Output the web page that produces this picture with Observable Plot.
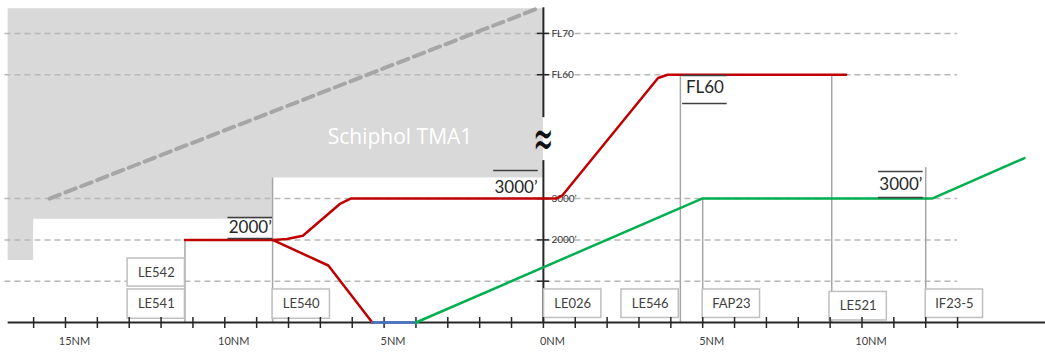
<!DOCTYPE html>
<html><head><meta charset="utf-8">
<script src="https://cdn.jsdelivr.net/npm/d3@7"></script>
<script src="https://cdn.jsdelivr.net/npm/@observablehq/plot@0.6"></script>
<style>body{margin:0;background:#fff}</style>
</head><body><div id="chart"></div>
<script>
// x: distance in NM (0 = reference point), y: altitude in feet
const redUpperNM = [-11.25, -8.5, -8.05, -7.55, -6.37, -6.05, 0.4, 0.6, 3.6, 3.9, 9.5];
const redUpperFt = [2000, 2000, 2020, 2100, 2880, 3000, 3000, 3080, 5920, 6000, 6000];
const redLowerNM = [-8.5, -6.75, -5.37];
const redLowerFt = [2000, 1380, 0];
const blueNM = [-5.37, -4.0];
const blueFt = [0, 0];
const greenNM = [-4.0, 4.98, 12.2, 15.1];
const greenFt = [0, 3000, 3000, 3980];

const tmaNM = [-16.8, -16, -8.5, 0];
const tmaBaseFt = [1500, 2500, 3500, 3500];
const tmaTopFt = 7600;
const tmaLabel = ["Schiphol TMA1"];
const tmaLabelNM = [-4.5];
const tmaLabelFt = [4480];

const slopeNM = [-15.5, -0.2];
const slopeFt = [3000, 7600];

const gridFt = [1000, 2000, 3000, 6000, 7000];
const gridExtentNM = [-16.9, 13.0];

const yTickFt = [1000, 2000, 3000, 6000, 7000];
const yLabelFt = [2000, 3000, 6000, 7000];
const yLabelText = ["2000’", "3000’", "FL60", "FL70"];
const yAxisFrom = [0, 4960];
const yAxisTo = [3920, 7620];
const breakSymbol = ["≈"];
const breakFt = [4430];

const xAxisExtentNM = [-16.8, 15.76];
const xTicksNM = [-16,-15,-14,-13,-12,-11,-10,-9,-8,-7,-6,-5,-4,-3,-2,-1,0,1,2,3,4,5,6,7,8,9,10,11,12,13];
const xLabelNM = [-15, -10, -5, 0, 5, 10];
const xLabelText = ["15NM", "10NM", "5NM", "0NM", "5NM", "10NM"];

const vlineNM = [-11.25, -8.5, 4.3, 5.0, 9.05, 12.0];
const vlineTopFt = [2000, 3500, 6000, 3000, 6000, 3750];

const wpNames = ["LE542", "LE541", "LE540", "LE026", "LE546", "FAP23", "LE521", "IF23-5"];
const boxStartNM = [-13.05, -13.05, -8.5, 0.02, 2.45, 5.0, 8.98, 12.0];
const boxTopFt = [1550, 800, 800, 800, 800, 800, 740, 800];
const boxBottomFt = [870, 90, 90, 110, 110, 110, 50, 110];

const annText = ["2000’", "3000’", "FL60", "3000’"];
const annNM = [-9.2, -0.86, 5.07, 11.22];
const annFt = [2300, 3257, 5678, 3329];
const annOverFt = [2540, 3680, 5980, 3656];
const annUnderFt = [2034, null, 5303, 3027];

// ---- build tables ----
const zip = (xs, ys) => xs.map((x, i) => ({x, y: ys[i]}));
const tma = tmaNM.map((x, i) => ({x, base: tmaBaseFt[i]}));
const vlines = vlineNM.map((x, i) => ({x, top: vlineTopFt[i]}));
const BOX_W = 1.8;
const boxes = wpNames.map((name, i) => ({name, x1: boxStartNM[i], x2: boxStartNM[i] + BOX_W, y1: boxBottomFt[i], y2: boxTopFt[i]}));
const ann = annText.map((t, i) => ({t, x: annNM[i], y: annFt[i], over: annOverFt[i], under: annUnderFt[i]}));
const BAR = 0.7;
const xLabelMap = new Map(xLabelNM.map((d, i) => [d, xLabelText[i]]));
const yAxisSegs = yAxisFrom.map((a, i) => ({a, b: yAxisTo[i]}));
const TICK = 0.19;

const plot = Plot.plot({
  width: 1045, height: 352,
  marginLeft: 0, marginRight: 0, marginTop: 0, marginBottom: 35,
  x: {domain: [-17.04, 15.76], label: null},
  y: {domain: [121, 7797], label: null, axis: null},
  style: {fontFamily: "Lato, sans-serif", background: "white", overflow: "visible"},
  marks: [
    Plot.areaY(tma, {x: "x", y1: tmaTopFt, y2: "base", curve: "step-after", fill: "#d9d9d9"}),
    Plot.ruleY(gridFt, {y: d => d, x1: gridExtentNM[0], x2: gridExtentNM[1], stroke: "#b8b8b8", strokeWidth: 1.5, strokeDasharray: "6,4"}),
    Plot.line(zip(slopeNM, slopeFt), {x: "x", y: "y", stroke: "#a6a6a6", strokeWidth: 4, strokeDasharray: "11,6"}),
    Plot.text(tmaLabel, {x: () => tmaLabelNM[0], y: () => tmaLabelFt[0], text: d => d, fill: "white", fontSize: 21, fontFamily: "Open Sans"}),
    Plot.ruleX(vlines, {x: "x", y1: 0, y2: "top", stroke: "#a6a6a6", strokeWidth: 1.5}),
    Plot.ruleX(yAxisSegs, {x: 0, y1: "a", y2: "b", stroke: "#262626", strokeWidth: 2}),
    Plot.ruleY(yTickFt, {y: d => d, x1: -TICK, x2: TICK, stroke: "#262626", strokeWidth: 1.5}),
    Plot.text(yLabelFt, {x: 0, y: d => d, text: (d, i) => yLabelText[i], dx: 8, textAnchor: "start", fontSize: 10, fill: "#333"}),
    Plot.rect(boxes, {x1: "x1", x2: "x2", y1: "y1", y2: "y2", fill: "white", stroke: "#bfbfbf", strokeWidth: 1.5}),
    Plot.text(boxes, {x: d => (d.x1 + d.x2) / 2, y: d => (d.y1 + d.y2) / 2, text: "name", fontSize: 13, fill: "#404040"}),
    Plot.ruleY([0], {x1: xAxisExtentNM[0], x2: xAxisExtentNM[1], stroke: "#262626", strokeWidth: 2}),
    Plot.axisX(xTicksNM, {anchor: "bottom", tickSize: 11, tickFormat: () => "", label: null, stroke: "#262626", strokeWidth: 1.5}),
    Plot.axisX(xLabelNM, {anchor: "bottom", tickSize: 0, tickPadding: 20, tickFormat: d => xLabelMap.get(d), label: null, dx: 9, fontSize: 11, fill: "#404040"}),
    Plot.line(zip(redUpperNM, redUpperFt), {x: "x", y: "y", stroke: "#c00000", strokeWidth: 2.5, strokeLinejoin: "round"}),
    Plot.line(zip(redLowerNM, redLowerFt), {x: "x", y: "y", stroke: "#c00000", strokeWidth: 2.5, strokeLinejoin: "round"}),
    Plot.line(zip(blueNM, blueFt), {x: "x", y: "y", stroke: "#4472c4", strokeWidth: 2.5}),
    Plot.line(zip(greenNM, greenFt), {x: "x", y: "y", stroke: "#00b050", strokeWidth: 2.5, strokeLinejoin: "round"}),
    Plot.text(ann, {x: "x", y: "y", text: "t", fontSize: 17, fill: "#262626"}),
    Plot.ruleY(ann.filter(d => d.over != null), {y: "over", x1: d => d.x - BAR, x2: d => d.x + BAR, stroke: "#404040", strokeWidth: 1.5}),
    Plot.ruleY(ann.filter(d => d.under != null), {y: "under", x1: d => d.x - BAR, x2: d => d.x + BAR, stroke: "#404040", strokeWidth: 1.5}),
    Plot.text(breakSymbol, {x: 0, y: () => breakFt[0], text: d => d, fontSize: 24, fill: "#111", fontFamily: "DejaVu Sans"})
  ]
});
document.getElementById("chart").appendChild(plot);
// stretch the axis-break symbol vertically (two stacked waves, as in the reference)
plot.querySelectorAll("text").forEach(t => {
  if (t.textContent === "≈") {
    const tr = t.getAttribute("transform") || "";
    t.setAttribute("transform", tr + " scale(1,2.3)");
  }
});
</script>
</body></html>
